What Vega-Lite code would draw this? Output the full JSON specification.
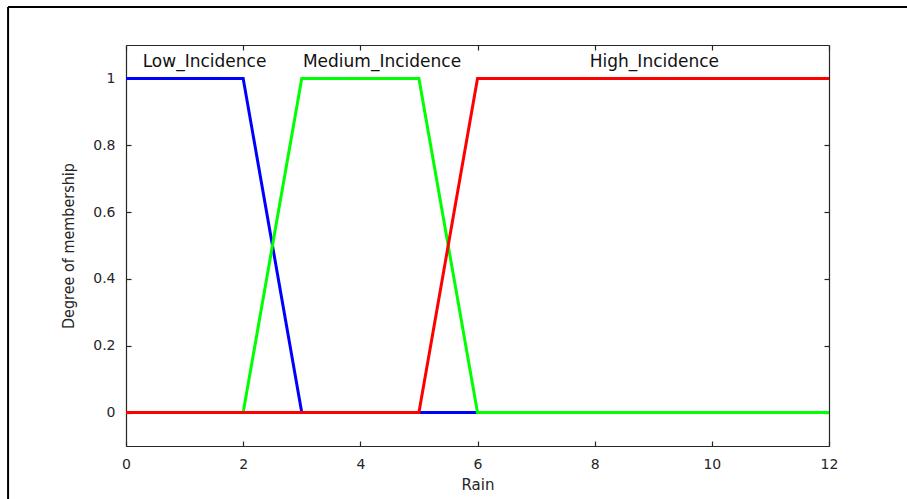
{
  "$schema": "https://vega.github.io/schema/vega-lite/v6.json",
  "width": 703,
  "height": 401,
  "autosize": {"type": "none"},
  "padding": {"left": 126, "top": 45, "right": 78, "bottom": 53},
  "background": "white",
  "config": {
    "view": {"stroke": null},
    "axis": {
      "grid": false,
      "labelFont": "DejaVu Sans",
      "labelFontSize": 14,
      "labelColor": "#262626",
      "labelFlush": false,
      "titleFont": "DejaVu Sans",
      "titleFontWeight": "normal",
      "titleColor": "#262626",
      "domainColor": "#262626",
      "domainWidth": 1.2,
      "tickColor": "#262626",
      "tickWidth": 1.2,
      "tickSize": -5
    }
  },
  "datasets": {
    "mf": [
      {"set": "Low_Incidence", "rain": 0, "degree": 1},
      {"set": "Low_Incidence", "rain": 2, "degree": 1},
      {"set": "Low_Incidence", "rain": 3, "degree": 0},
      {"set": "Low_Incidence", "rain": 12, "degree": 0},
      {"set": "Medium_Incidence", "rain": 0, "degree": 0},
      {"set": "Medium_Incidence", "rain": 2, "degree": 0},
      {"set": "Medium_Incidence", "rain": 3, "degree": 1},
      {"set": "Medium_Incidence", "rain": 5, "degree": 1},
      {"set": "Medium_Incidence", "rain": 6, "degree": 0},
      {"set": "Medium_Incidence", "rain": 12, "degree": 0},
      {"set": "High_Incidence", "rain": 0, "degree": 0},
      {"set": "High_Incidence", "rain": 5, "degree": 0},
      {"set": "High_Incidence", "rain": 6, "degree": 1},
      {"set": "High_Incidence", "rain": 12, "degree": 1}
    ],
    "labels": [
      {"set": "Low_Incidence", "rain": 1.34, "degree": 1.048},
      {"set": "Medium_Incidence", "rain": 4.37, "degree": 1.048},
      {"set": "High_Incidence", "rain": 9.02, "degree": 1.048}
    ],
    "frameV": [
      {"rain": -2.013, "degree": 1.2137, "degree2": -0.4}
    ],
    "frameH": [
      {"rain": -2.013, "rain2": 14, "degree": 1.2137}
    ]
  },
  "resolve": {"axis": {"x": "independent", "y": "independent"}},
  "layer": [
    {
      "data": {"name": "mf"},
      "transform": [{"filter": "datum.set == 'Low_Incidence'"}],
      "mark": {"type": "line", "color": "#0000ff", "strokeWidth": 3, "clip": true},
      "encoding": {
        "x": {"field": "rain", "type": "quantitative", "scale": {"domain": [0, 12], "nice": false, "zero": false},
          "axis": {"orient": "bottom", "values": [0, 2, 4, 6, 8, 10, 12], "title": "Rain", "titleFontSize": 15, "labelPadding": 16, "titlePadding": 6}},
        "y": {"field": "degree", "type": "quantitative", "scale": {"domain": [-0.1, 1.1], "nice": false, "zero": false},
          "axis": {"orient": "left", "values": [0, 0.2, 0.4, 0.6, 0.8, 1], "format": ".1~f", "title": "Degree of membership", "titleFont": "DejaVu Sans Condensed, Liberation Sans", "titleFontSize": 16, "labelPadding": 16, "titlePadding": 16}}
      }
    },
    {
      "data": {"name": "mf"},
      "transform": [{"filter": "datum.set == 'Medium_Incidence'"}],
      "mark": {"type": "line", "color": "#00ff00", "strokeWidth": 3, "clip": true},
      "encoding": {
        "x": {"field": "rain", "type": "quantitative", "axis": {"orient": "top", "values": [0, 2, 4, 6, 8, 10, 12], "labels": false, "title": null}},
        "y": {"field": "degree", "type": "quantitative", "axis": {"orient": "right", "values": [0, 0.2, 0.4, 0.6, 0.8, 1], "labels": false, "title": null}}
      }
    },
    {
      "data": {"name": "mf"},
      "transform": [{"filter": "datum.set == 'High_Incidence'"}],
      "mark": {"type": "line", "color": "#ff0000", "strokeWidth": 3, "clip": true},
      "encoding": {
        "x": {"field": "rain", "type": "quantitative", "axis": null},
        "y": {"field": "degree", "type": "quantitative", "axis": null}
      }
    },
    {
      "data": {"name": "labels"},
      "mark": {"type": "text", "font": "DejaVu Sans", "fontSize": 17, "color": "#111111", "align": "center", "baseline": "middle"},
      "encoding": {
        "x": {"field": "rain", "type": "quantitative", "axis": null},
        "y": {"field": "degree", "type": "quantitative", "axis": null},
        "text": {"field": "set"}
      }
    },
    {
      "data": {"name": "frameV"},
      "mark": {"type": "rule", "color": "black", "strokeWidth": 2, "clip": false},
      "encoding": {
        "x": {"field": "rain", "type": "quantitative", "axis": null},
        "y": {"field": "degree", "type": "quantitative", "axis": null},
        "y2": {"field": "degree2"}
      }
    },
    {
      "data": {"name": "frameH"},
      "mark": {"type": "rule", "color": "black", "strokeWidth": 2, "clip": false},
      "encoding": {
        "x": {"field": "rain", "type": "quantitative", "axis": null},
        "x2": {"field": "rain2"},
        "y": {"field": "degree", "type": "quantitative", "axis": null}
      }
    }
  ]
}
